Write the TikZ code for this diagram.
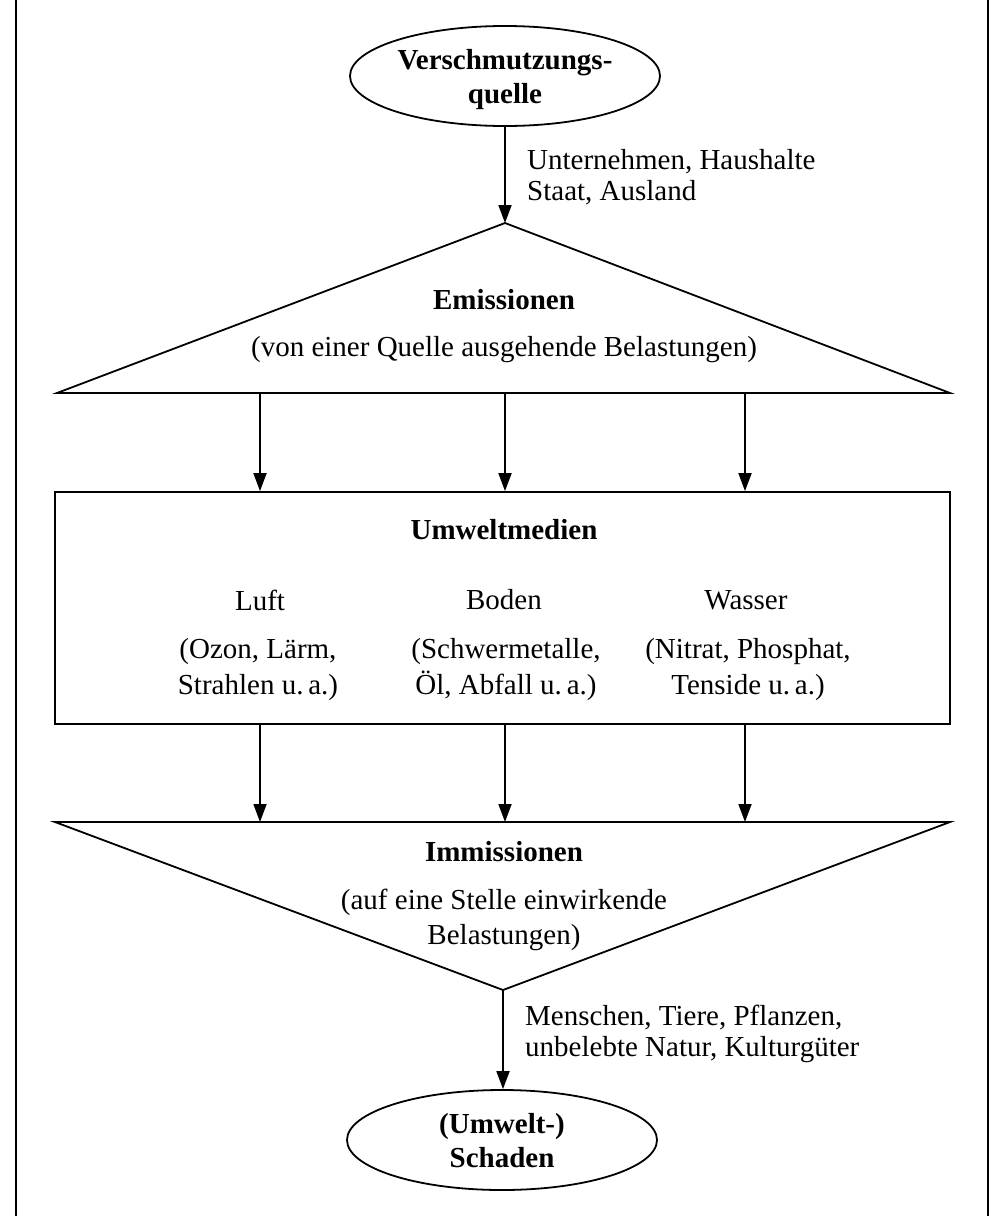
\documentclass[tikz,border=0pt]{standalone}
\usepackage{fontspec}
\setmainfont{Liberation Serif}
\usetikzlibrary{arrows.meta,shapes.geometric}
\begin{document}
\begin{tikzpicture}[x=1pt,y=-1pt,
  lw/.style={line width=1.8pt},
  framel/.style={line width=2.2pt},
  arr/.style={lw,-{Triangle[length=18pt,width=13pt]}},
  txt/.style={font=\fontsize{29}{36}\selectfont, align=center, inner sep=0pt},
  btxt/.style={font=\fontsize{29}{34}\selectfont\bfseries, align=center, inner sep=0pt},
  lbl/.style={font=\fontsize{29}{31}\selectfont, align=left, inner sep=0pt, anchor=west},
  oval/.style={ellipse, draw, lw, minimum width=310pt, minimum height=100pt, inner sep=0pt}]
\useasboundingbox (0,0) rectangle (1004,1216);
% frame side lines
\coordinate (fl1) at (16,0); \coordinate (fl2) at (16,1216);
\coordinate (fr1) at (988,0); \coordinate (fr2) at (988,1216);
\draw[framel] (fl1) -- (fl2);
\draw[framel] (fr1) -- (fr2);
% source ellipse
\node[oval] (src) at (505,76) {};
\node[btxt] (srct) at (505,80) {Verschmutzungs-\\quelle};
\node[lbl] (srclbl) at (527,177) {Unternehmen, Haushalte\\Staat, Ausland};
% emission triangle
\coordinate (ea) at (505,223);
\coordinate (el) at (57,393);
\coordinate (er) at (950,393);
\draw[lw, line join=miter] (el) -- (ea) -- (er) -- cycle;
\node[btxt] (emt) at (504,300) {Emissionen};
\node[txt] (emsub) at (504,350) {(von einer Quelle ausgehende Belastungen)};
\draw[arr] (src.south) -- (ea);
% media box
\node[draw, lw, minimum width=895pt, minimum height=232pt, inner sep=0pt] (box) at (502.5,608) {};
\node[btxt] (umt) at (504,530) {Umweltmedien};
\node[txt] (luft) at (260,600) {Luft};
\node[txt] (boden) at (504,600) {Boden};
\node[txt] (wasser) at (746,600) {Wasser};
\node[txt] (luftsub) at (258,670) {(Ozon, Lärm,\\Strahlen u.\,a.)};
\node[txt] (bodensub) at (506,670) {(Schwermetalle,\\Öl, Abfall u.\,a.)};
\node[txt] (wassersub) at (748,670) {(Nitrat, Phosphat,\\Tenside u.\,a.)};
% arrows emission -> box
\coordinate (e1) at (260,393);
\coordinate (e2) at (505,393);
\coordinate (e3) at (745,393);
\draw[arr] (e1) -- (e1 |- box.north);
\draw[arr] (e2) -- (e2 |- box.north);
\draw[arr] (e3) -- (e3 |- box.north);
% immission triangle
\coordinate (il) at (55,822);
\coordinate (ir) at (950,822);
\coordinate (ia) at (503,990);
\draw[lw, line join=miter] (il) -- (ir) -- (ia) -- cycle;
\node[btxt] (imt) at (504,852) {Immissionen};
\node[txt, font=\fontsize{29}{35}\selectfont] (imsub) at (504,920) {(auf eine Stelle einwirkende\\Belastungen)};
% arrows box -> immission
\coordinate (b1) at (260,724);
\coordinate (b2) at (505,724);
\coordinate (b3) at (745,724);
\draw[arr] (b1 |- box.south) -- (b1 |- il);
\draw[arr] (b2 |- box.south) -- (b2 |- il);
\draw[arr] (b3 |- box.south) -- (b3 |- il);
% damage ellipse
\node[oval] (dmg) at (502,1140) {};
\node[btxt] (dmgt) at (502,1141) {(Umwelt-)\\Schaden};
\draw[arr] (ia) -- (ia |- dmg.north);
\node[lbl] (dmglbl) at (525,1034) {Menschen, Tiere, Pflanzen,\\unbelebte Natur, Kulturgüter};
\end{tikzpicture}
\end{document}
